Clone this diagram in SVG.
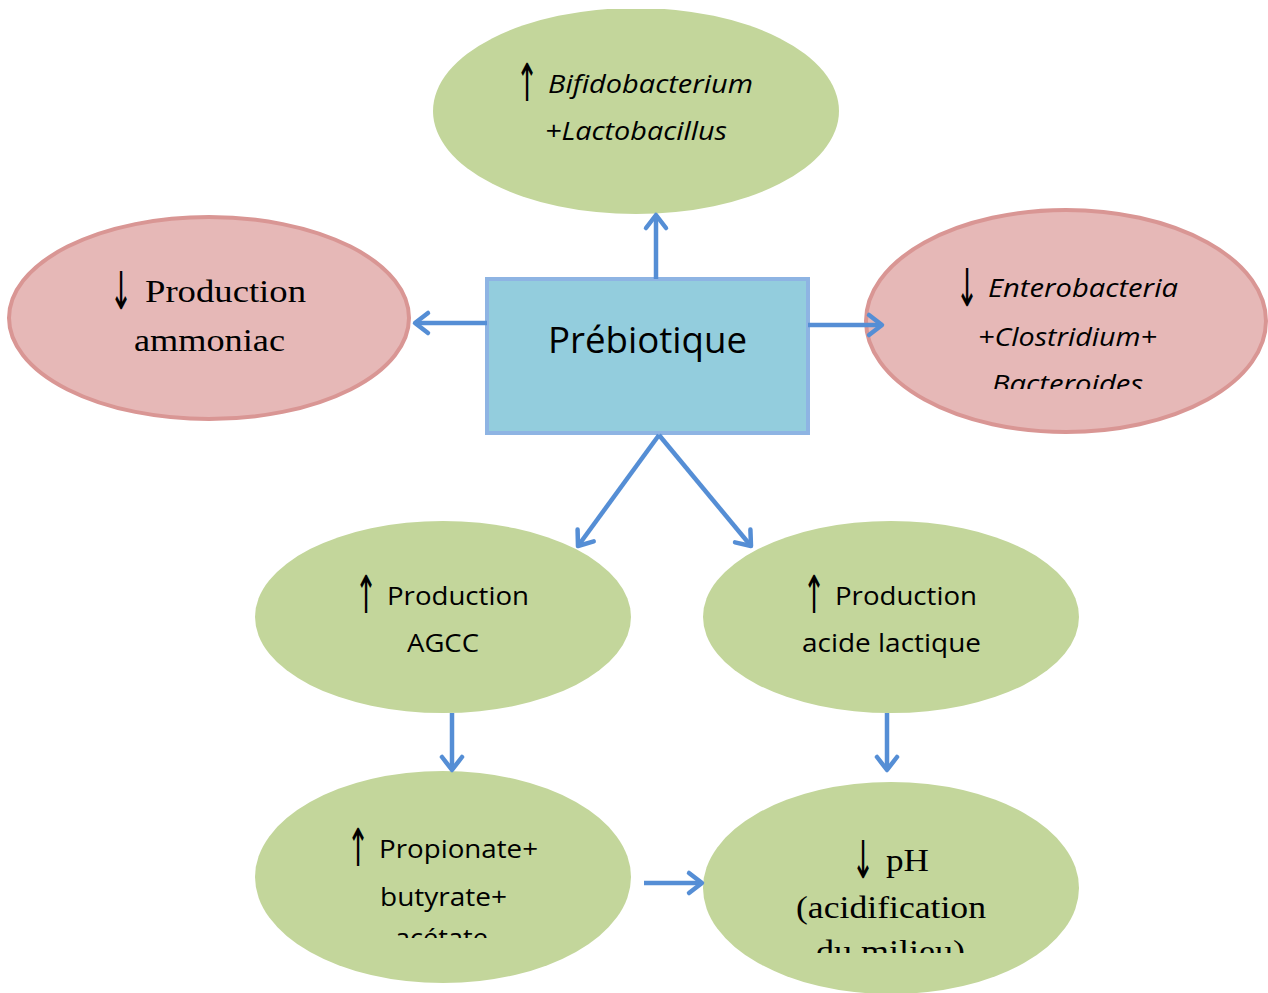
<svg xmlns="http://www.w3.org/2000/svg" width="1268" height="993" viewBox="0 0 1268 993">
<style>
.green{fill:#C3D69B;stroke:none}
.pink{fill:#E6B8B7;stroke:#D99694;stroke-width:4}
.box{fill:#93CDDD;stroke:#8EB4E3;stroke-width:4}
.cal{font-family:"Open Sans","Noto Sans",sans-serif;font-size:26px;fill:#000}
.it{font-style:italic}
.ser{font-family:"Liberation Serif","DejaVu Serif",serif;font-size:32px;fill:#000}
.arr{font-family:"DejaVu Sans",sans-serif;font-size:30px;fill:#000}
.conn{stroke:#558ED5;stroke-width:4.5;fill:none}
</style>
<defs>
<marker id="ah" markerUnits="userSpaceOnUse" markerWidth="40" markerHeight="40" refX="0" refY="0" viewBox="-20 -20 40 40" orient="auto" overflow="visible">
<path d="M-13,-10 L0,0 L-13,10" fill="none" stroke="#558ED5" stroke-width="4.5" stroke-linecap="round" stroke-linejoin="round"/>
</marker>
<clipPath id="cTop"><rect x="0" y="9" width="1268" height="984"/></clipPath>
<clipPath id="cBact"><rect x="850" y="200" width="418" height="189"/></clipPath>
<clipPath id="cAce"><rect x="250" y="760" width="400" height="178"/></clipPath>
<clipPath id="cMil"><rect x="700" y="760" width="400" height="193"/></clipPath>
</defs>

<g id="node-bifido">
<ellipse class="green" cx="636" cy="111" rx="203" ry="103" clip-path="url(#cTop)"/>
<text class="arr" transform="translate(515.7,101) scale(0.9,1.74)">↑</text>
<text class="cal it" x="548" y="93" textLength="205" lengthAdjust="spacingAndGlyphs">Bifidobacterium</text>
<text class="cal it" x="545" y="140" textLength="182" lengthAdjust="spacingAndGlyphs">+Lactobacillus</text>
</g>

<g id="node-ammoniac">
<ellipse class="pink" cx="209" cy="318" rx="200" ry="101"/>
<text class="arr" transform="translate(109.7,309) scale(0.9,1.74)">↓</text>
<text class="ser" x="145" y="302" textLength="161" lengthAdjust="spacingAndGlyphs">Production</text>
<text class="ser" x="134" y="351" textLength="151" lengthAdjust="spacingAndGlyphs">ammoniac</text>
</g>

<g id="node-prebiotique">
<rect class="box" x="487" y="279" width="321" height="154"/>
<text class="cal" x="548" y="353" style="font-size:37px" textLength="199" lengthAdjust="spacingAndGlyphs">Prébiotique</text>
</g>

<g id="node-entero">
<ellipse class="pink" cx="1066" cy="321" rx="200" ry="111"/>
<text class="arr" transform="translate(955.7,306) scale(0.9,1.74)">↓</text>
<text class="cal it" x="988" y="297" textLength="190" lengthAdjust="spacingAndGlyphs">Enterobacteria</text>
<text class="cal it" x="978" y="346" textLength="179" lengthAdjust="spacingAndGlyphs">+Clostridium+</text>
<text class="cal it" x="992" y="393" textLength="151" lengthAdjust="spacingAndGlyphs" clip-path="url(#cBact)">Bacteroides</text>
</g>

<g id="node-agcc">
<ellipse class="green" cx="443" cy="617" rx="188" ry="96"/>
<text class="arr" transform="translate(354.7,613) scale(0.9,1.74)">↑</text>
<text class="cal" x="387" y="605" textLength="142" lengthAdjust="spacingAndGlyphs">Production</text>
<text class="cal" x="407" y="652" textLength="72" lengthAdjust="spacingAndGlyphs">AGCC</text>
</g>

<g id="node-lactique">
<ellipse class="green" cx="891" cy="617" rx="188" ry="96"/>
<text class="arr" transform="translate(802.7,613) scale(0.9,1.74)">↑</text>
<text class="cal" x="835" y="605" textLength="142" lengthAdjust="spacingAndGlyphs">Production</text>
<text class="cal" x="802" y="652" textLength="179" lengthAdjust="spacingAndGlyphs">acide lactique</text>
</g>

<g id="node-propionate">
<ellipse class="green" cx="443" cy="877" rx="188" ry="106"/>
<text class="arr" transform="translate(346.7,866) scale(0.9,1.74)">↑</text>
<text class="cal" x="379" y="858" textLength="159" lengthAdjust="spacingAndGlyphs">Propionate+</text>
<text class="cal" x="380" y="906" textLength="127" lengthAdjust="spacingAndGlyphs">butyrate+</text>
<text class="cal" x="395" y="947" textLength="93" lengthAdjust="spacingAndGlyphs" clip-path="url(#cAce)">acétate</text>
</g>

<g id="node-ph">
<ellipse class="green" cx="891" cy="888" rx="188" ry="106"/>
<text class="arr" transform="translate(851.7,878) scale(0.9,1.74)">↓</text>
<text class="ser" x="886" y="871" textLength="43" lengthAdjust="spacingAndGlyphs">pH</text>
<text class="ser" x="796" y="918" textLength="190" lengthAdjust="spacingAndGlyphs">(acidification</text>
<text class="ser" x="816" y="962" textLength="149" lengthAdjust="spacingAndGlyphs" clip-path="url(#cMil)">du milieu)</text>
</g>

<g id="connectors">
<line class="conn" x1="656" y1="279" x2="656" y2="215" marker-end="url(#ah)"/>
<line class="conn" x1="487" y1="323" x2="415" y2="323" marker-end="url(#ah)"/>
<line class="conn" x1="808" y1="325" x2="882" y2="325" marker-end="url(#ah)"/>
<line class="conn" x1="659" y1="435" x2="578" y2="546" marker-end="url(#ah)"/>
<line class="conn" x1="659" y1="435" x2="751" y2="546" marker-end="url(#ah)"/>
<line class="conn" x1="452" y1="713" x2="452" y2="770" marker-end="url(#ah)"/>
<line class="conn" x1="887" y1="713" x2="887" y2="770" marker-end="url(#ah)"/>
<line class="conn" x1="644" y1="883" x2="702" y2="883" marker-end="url(#ah)"/>
</g>
</svg>
